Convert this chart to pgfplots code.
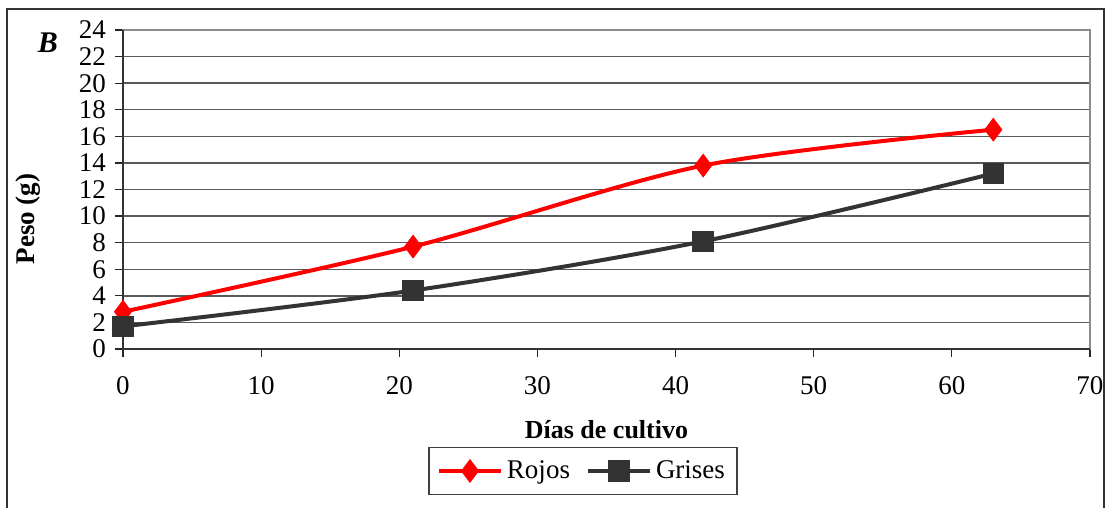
\documentclass[border=0pt]{standalone}
\usepackage{pgfplots}
\pgfplotsset{compat=1.18}
\usepackage{fontspec}
\setmainfont{Liberation Serif}
\definecolor{rojo}{RGB}{255,0,0}
\definecolor{gris}{RGB}{51,51,51}
\begin{document}
\begin{tikzpicture}
\begin{axis}[
  name=ax,
  scale only axis,
  width=483.5pt, height=159.5pt,
  xmin=0, xmax=70, ymin=0, ymax=24,
  xtick={0,10,...,70}, ytick={0,2,...,24},
  /pgf/number format/assume math mode=true,
  ticklabel style={font=\fontsize{13.5}{15}\selectfont},
  xticklabel style={yshift=-6pt},
  yticklabel style={xshift=-1pt},
  tick align=outside,
  major tick length=4pt,
  xtick pos=bottom, ytick pos=left,
  tick style={black!85, line width=0.6pt},
  ymajorgrids,
  grid style={black!65, line width=0.7pt},
  axis line style={draw=black!45, line width=1pt},
  xlabel={\textbf{Días de cultivo}},
  xlabel style={at={(axis description cs:0.5,-0.254)}, anchor=center, font=\fontsize{13}{15}\selectfont},
  ylabel={\textbf{Peso (g)}},
  ylabel style={at={(axis description cs:-0.0982,0.4075)}, anchor=center, font=\fontsize{13.5}{15}\selectfont},
  legend columns=2,
  legend style={at={(axis description cs:0.4757,-0.3824)}, anchor=center,
    draw=black!75, line width=0.6pt, font=\fontsize{13.5}{15}\selectfont,
    inner xsep=4pt, inner ysep=4.5pt,
    /tikz/every even column/.append style={column sep=6pt}},
  legend image code/.code={
    \draw[#1, mark repeat=2, mark phase=2] plot coordinates {(0pt,0pt) (15.5pt,0pt) (31pt,0pt)};
  },
  clip=false,
]
\addplot[rojo, line width=2pt, smooth, tension=0.5, mark=diamond*, mark size=5.6pt, mark options={solid, fill=rojo, draw=rojo, line width=0.5pt}]
  coordinates {(0,2.8) (21,7.7) (42,13.8) (63,16.5)};
\addlegendentry{Rojos}
\addplot[gris, line width=2pt, smooth, tension=0.5, mark=square*, mark size=5.1pt, mark options={solid, fill=gris, draw=gris, line width=0.5pt}]
  coordinates {(0,1.7) (21,4.4) (42,8.1) (63,13.2)};
\addlegendentry{Grises}
\draw[black!80, line width=1pt] (rel axis cs:0,1) -- (rel axis cs:0,0) -- (rel axis cs:1,0);
\node[font=\fontsize{15}{17}\selectfont\bfseries\itshape] at (axis description cs:-0.0776,0.959) {B};
\coordinate (bl) at (axis description cs:-0.1272,-0.4984);
\coordinate (tr) at (axis description cs:1.0176,1.0940);
\coordinate (fl) at (axis description cs:-0.1200,-0.55);
\coordinate (ft) at (axis description cs:1.0145,1.0658);
\end{axis}
\draw[black!80, line width=1pt] (fl) -- (fl|-ft) -- (ft) -- (ft|-fl);
\pgfresetboundingbox
\path[use as bounding box] (bl) rectangle (tr);
\end{tikzpicture}
\end{document}
